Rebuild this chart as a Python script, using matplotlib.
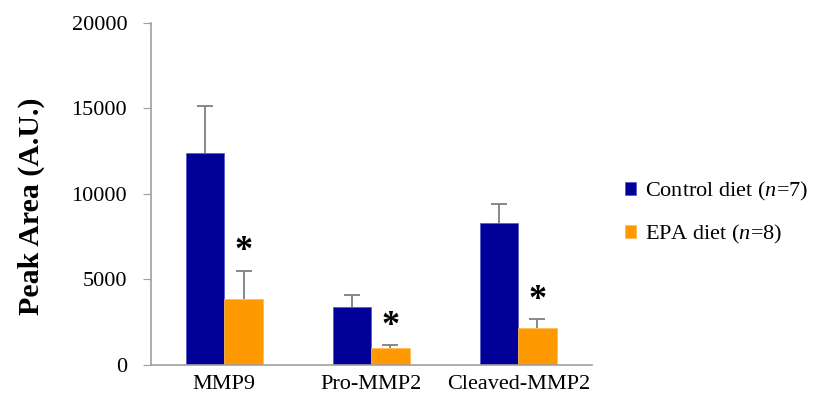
import matplotlib
matplotlib.use('Agg')
import matplotlib.pyplot as plt
import numpy as np

categories = ['MMP9', 'Pro-MMP2', 'Cleaved-MMP2']
control_mean = [12380, 3410, 8320]
control_err = [2770, 665, 1095]
epa_mean = [3880, 975, 2145]
epa_err = [1635, 195, 525]
yticks = [0, 5000, 10000, 15000, 20000]

navy = '#000099'
orange = '#ff9900'
gray = '#7f7f7f'

plt.rcParams['font.family'] = ['Liberation Serif', 'DejaVu Serif']
plt.rcParams['mathtext.fontset'] = 'custom'
plt.rcParams['mathtext.it'] = 'Liberation Serif:italic'
plt.rcParams['mathtext.rm'] = 'Liberation Serif'

fig = plt.figure(figsize=(8.15, 4.01), dpi=100)
ax = fig.add_axes([0.185, 0.0898, 0.541, 0.853])

x = np.arange(len(categories))
w = 0.262
ax.bar(x - w/2, control_mean, w, color=navy, edgecolor='#5555cc', linewidth=0.5,
       label='Control diet ($\\mathit{n}$=7)', zorder=2)
ax.bar(x + w/2, epa_mean, w, color=orange, edgecolor='#ffbb55', linewidth=0.5,
       label='EPA diet ($\\mathit{n}$=8)', zorder=2)

# upper-only error bars, cap only at the top
for xs, m, e in [(x - w/2, control_mean, control_err), (x + w/2, epa_mean, epa_err)]:
    top = np.array(m) + np.array(e)
    ax.vlines(xs, m, top, color=gray, linewidth=1.3, zorder=1)
    ax.plot(xs, top, ls='none', marker='_', markersize=12, mew=1.3, color=gray, zorder=1)

# significance stars above EPA bars
for xi, m, e in zip(x, epa_mean, epa_err):
    ax.text(xi + w/2, m + e + 1100, '*', ha='center', va='center',
            fontsize=26, fontweight='bold')

ax.set_xlim(-0.5, 2.5)
ax.set_ylim(0, 20000)
ax.set_yticks(yticks)
ax.set_xticks(x)
ax.set_xticklabels(categories, fontsize=16)
ax.tick_params(axis='y', labelsize=16, direction='out', length=6, color='#a0a0a0', pad=11)
ax.tick_params(axis='x', length=0, pad=7)
for s in ['top', 'right']:
    ax.spines[s].set_visible(False)
for s in ['left', 'bottom']:
    ax.spines[s].set_color('#a0a0a0')
    ax.spines[s].set_linewidth(1.2)

ax.set_ylabel('Peak Area (A.U.)', fontsize=21.5, fontweight='bold')
ax.yaxis.set_label_coords(-0.239, 0.463)

fig.legend(loc='center left', bbox_to_anchor=(0.742, 0.468), frameon=False,
           fontsize=16, handlelength=0.52, handleheight=0.52, handletextpad=0.4,
           labelspacing=0.9)

fig.savefig('out.png', dpi=100)
